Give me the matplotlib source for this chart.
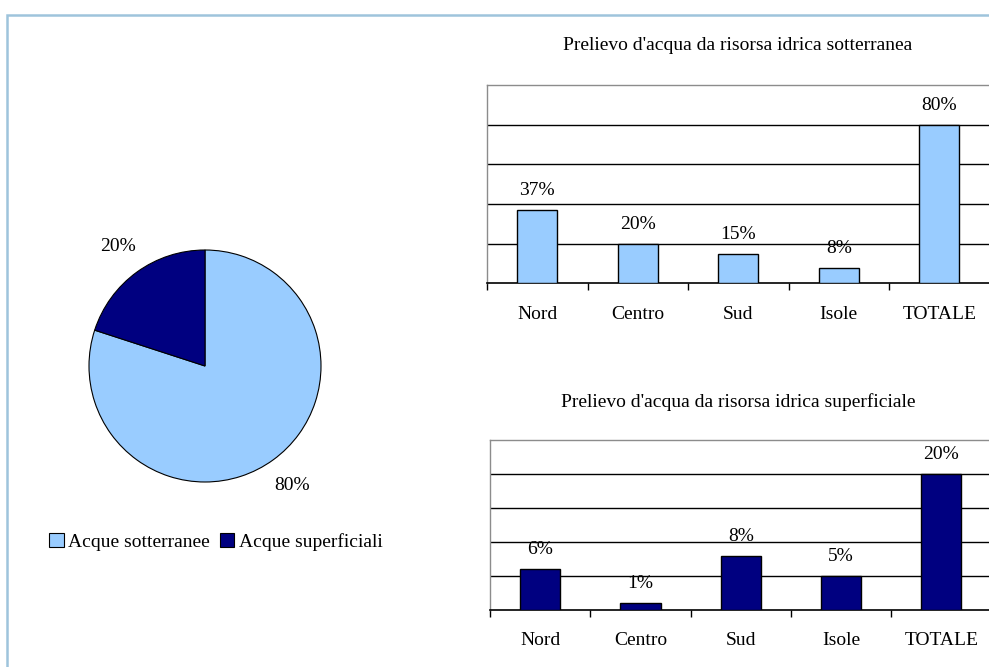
import matplotlib
matplotlib.use('Agg')
import matplotlib.pyplot as plt
from matplotlib.patches import Rectangle

# dati
pie_labels = ['Acque sotterranee', 'Acque superficiali']
pie_values = [80, 20]

regions = ['Nord', 'Centro', 'Sud', 'Isole', 'TOTALE']
sotterranea = [37, 20, 15, 8, 80]
superficiale = [6, 1, 8, 5, 20]

light_blue = '#99CCFF'
navy = '#000080'

W, H = 989, 667
plt.rcParams['font.family'] = ['Liberation Serif', 'DejaVu Serif']
fs = 14

fig = plt.figure(figsize=(W / 100, H / 100), dpi=100)

# cornice azzurra
fig.patches.append(Rectangle((7 / W, -0.1), 1.2, (H - 15) / H + 0.1, transform=fig.transFigure,
                             fill=False, edgecolor='#9ec4dc', linewidth=1.8))


def px_box(left, top, right, bottom):
    return [left / W, 1 - bottom / H, (right - left) / W, (bottom - top) / H]


# torta
r = 116
cx, cy = 205, 366
ax_pie = fig.add_axes(px_box(cx - r, cy - r, cx + r, cy + r))
ax_pie.pie(pie_values, colors=[light_blue, navy], startangle=90, counterclock=False,
           autopct='%1.0f%%', pctdistance=1.27,
           wedgeprops=dict(edgecolor='black', linewidth=0.8),
           textprops=dict(fontsize=fs, color='black'))
ax_pie.set_xlim(-1, 1)
ax_pie.set_ylim(-1, 1)
ax_pie.set_aspect('auto')

handles = [Rectangle((0, 0), 1, 1, facecolor=c, edgecolor='black', linewidth=0.8)
           for c in [light_blue, navy]]
fig.legend(handles, pie_labels, loc='center', bbox_to_anchor=(216 / W, 1 - 542 / H),
           ncol=2, frameon=False, fontsize=fs, handlelength=0.75, handleheight=0.75,
           handletextpad=0.25, columnspacing=0.5, borderaxespad=0)


def bar_chart(box, values, color, ymax, step, title, title_y):
    ax = fig.add_axes(box)
    x = range(len(values))
    ax.bar(x, values, width=0.4, color=color, edgecolor='black', linewidth=1.0, zorder=3)
    ax.set_xlim(-0.5, len(values) - 0.5)
    ax.set_ylim(0, ymax)
    ax.set_yticks([v * step for v in range(1, int(ymax / step))])
    ax.yaxis.grid(True, color='black', linewidth=1.0, zorder=0)
    ax.tick_params(axis='y', length=0, labelleft=False)
    ax.set_xticks(list(x))
    ax.set_xticklabels(regions, fontsize=fs)
    ax.set_xticks([i - 0.5 for i in range(len(values) + 1)], minor=True)
    ax.tick_params(axis='x', which='major', length=0, pad=16)
    ax.tick_params(axis='x', which='minor', length=5, width=1.0, direction='out')
    for side in ['top', 'left', 'right']:
        ax.spines[side].set_color('#8c8c8c')
        ax.spines[side].set_linewidth(1.0)
    ax.spines['bottom'].set_linewidth(1.2)
    for i, v in enumerate(values):
        ax.annotate('%d%%' % v, (i, v), xytext=(0, 14), textcoords='offset points',
                    ha='center', va='center', fontsize=fs)
    fig.text(738 / W, 1 - title_y / H, title, ha='center', va='center', fontsize=fs)
    return ax


bar_chart(px_box(487, 85, 989.5, 283.5), sotterranea, light_blue, 100, 20,
          "Prelievo d'acqua da risorsa idrica sotterranea", 45)
bar_chart(px_box(490, 440, 991.5, 610), superficiale, navy, 25, 5,
          "Prelievo d'acqua da risorsa idrica superficiale", 402)

fig.savefig('out.png', dpi=100)
